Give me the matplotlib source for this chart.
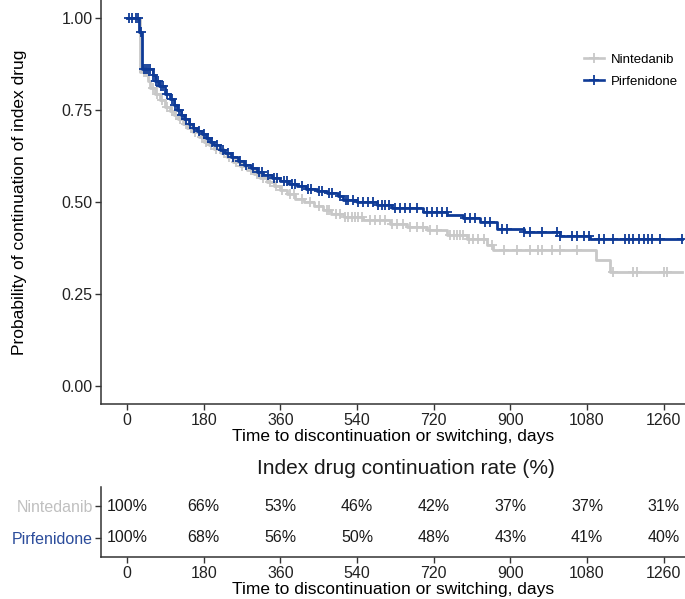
import numpy as np
import matplotlib
matplotlib.use("Agg")
import matplotlib.pyplot as plt
from matplotlib.lines import Line2D

plt.rcParams['font.family'] = ['Liberation Sans', 'DejaVu Sans']

# Kaplan-Meier step points (time in days, survival after the step)
nin_t = [0, 30, 50, 55, 65, 78, 90, 100, 110, 120, 132, 142, 155, 168, 180, 192, 205,
         220, 235, 250, 265, 282, 298, 313, 329, 345, 360, 376, 395, 415, 440, 460, 480,
         510, 555, 618, 658, 705, 752, 799, 846, 860, 1100, 1135, 1304]
nin_s = [1.0, 0.853, 0.83, 0.81, 0.795, 0.777, 0.76, 0.748, 0.738, 0.726, 0.714, 0.703,
         0.69, 0.678, 0.665, 0.655, 0.645, 0.634, 0.622, 0.61, 0.598, 0.587, 0.576, 0.565,
         0.554, 0.543, 0.533, 0.522, 0.508, 0.50, 0.49, 0.478, 0.468, 0.46, 0.451, 0.442,
         0.433, 0.424, 0.41, 0.401, 0.383, 0.37, 0.342, 0.309, 0.309]
nin_cens = [40, 45, 60, 70, 83, 95, 105, 115, 125, 138, 150, 160, 175, 185, 198, 210, 228,
            240, 255, 270, 290, 305, 320, 335, 350, 365, 383, 392, 410, 430, 450, 470, 475,
            490, 500, 512, 520, 528, 536, 543, 551, 571, 583, 594, 606, 622, 634, 649, 665,
            681, 696, 712, 728, 759, 767, 775, 782, 790, 802, 813, 825, 837, 857, 884, 916,
            947, 966, 974, 998, 1017, 1057, 1142, 1189, 1197, 1260, 1268]

pir_t = [0, 28, 35, 60, 65, 75, 90, 100, 110, 118, 126, 135, 145, 155, 165, 175, 185, 195,
         205, 218, 230, 245, 260, 275, 290, 305, 320, 340, 360, 380, 400, 420, 445, 470,
         495, 508, 540, 587, 622, 696, 752, 790, 829, 869, 931, 1017, 1088, 1304]
pir_s = [1.0, 0.962, 0.862, 0.845, 0.83, 0.815, 0.795, 0.78, 0.765, 0.75, 0.737, 0.725,
         0.713, 0.703, 0.695, 0.685, 0.675, 0.665, 0.655, 0.643, 0.633, 0.623, 0.613, 0.602,
         0.592, 0.582, 0.574, 0.566, 0.558, 0.55, 0.543, 0.537, 0.53, 0.524, 0.516, 0.506,
         0.501, 0.492, 0.483, 0.474, 0.465, 0.456, 0.447, 0.427, 0.419, 0.408, 0.399, 0.399]
pir_cens = [5, 12, 20, 25, 33, 40, 45, 50, 55, 62, 68, 72, 80, 85, 95, 105, 112, 122, 130,
            138, 148, 158, 170, 180, 190, 200, 212, 225, 238, 250, 265, 280, 295, 310, 318,
            330, 345, 352, 368, 375, 388, 395, 410, 425, 432, 450, 458, 475, 482, 500, 515,
            520, 531, 543, 555, 566, 578, 590, 598, 606, 614, 630, 641, 653, 665, 681, 704,
            716, 728, 740, 751, 794, 806, 817, 841, 853, 880, 892, 931, 947, 974, 1010, 1017,
            1045, 1057, 1072, 1084, 1107, 1119, 1142, 1170, 1178, 1189, 1201, 1213, 1224,
            1232, 1252, 1304]

# continuation rate table
tab_times = [0, 180, 360, 540, 720, 900, 1080, 1260]
nin_rate = [100, 66, 53, 46, 42, 37, 37, 31]
pir_rate = [100, 68, 56, 50, 48, 43, 41, 40]

gray = '#C8C8C8'
blue = '#0E3A96'
axcol = '#333333'

fig = plt.figure(figsize=(6.85, 5.99), dpi=100)
ax = fig.add_axes([101/685, 1-404.4/599, 1-101/685, 404.4/599])
ax2 = fig.add_axes([101/685, 1-557.2/599, 1-101/685, 70.4/599])

for t, s, c, col in [(nin_t, nin_s, nin_cens, gray), (pir_t, pir_s, pir_cens, blue)]:
    t = np.array(t); s = np.array(s); c = np.array(c)
    ax.step(t, s, where='post', color=col, lw=2.0)
    cy = s[np.searchsorted(t, c, side='right') - 1]
    ax.plot(c, cy, ls='none', marker='+', ms=7, mew=1.3, color=col)

ax.set_xlim(-61, 1310)
ax.set_ylim(-0.05, 1.05)
ax.set_xticks(tab_times)
ax.set_yticks([0, 0.25, 0.5, 0.75, 1.0])
ax.set_yticklabels(['0.00', '0.25', '0.50', '0.75', '1.00'])
ax.set_xlabel('Time to discontinuation or switching, days', fontsize=12.5, labelpad=1)
ax.set_ylabel('Probability of continuation of index drug', fontsize=12.5, labelpad=25)

handles = [Line2D([], [], color=gray, marker='+', lw=1.9, ms=7, mew=1.3),
           Line2D([], [], color=blue, marker='+', lw=1.9, ms=7, mew=1.3)]
ax.legend(handles, ['Nintedanib', 'Pirfenidone'], loc='upper left',
          bbox_to_anchor=(0.807, 0.897), frameon=False, fontsize=9.5,
          handlelength=1.5, handletextpad=0.5, labelspacing=0.75)

# table
for rates, y in [(nin_rate, 2), (pir_rate, 1)]:
    for tt, r in zip(tab_times, rates):
        ax2.text(tt, y, f'{r}%', ha='center', va='center', fontsize=11.5, color='#1a1a1a')
ax2.set_xlim(-61, 1310)
ax2.set_ylim(0.4, 2.6)
ax2.set_xticks(tab_times)
ax2.set_yticks([1, 2])
ax2.set_yticklabels(['Pirfenidone', 'Nintedanib'])
ax2.set_xlabel('Time to discontinuation or switching, days', fontsize=12.5, labelpad=1)
fig.text(406/685, 1-468/599, 'Index drug continuation rate (%)', ha='center', va='center',
         fontsize=15, color='#1a1a1a')

for a in (ax, ax2):
    for sp in ['top', 'right']:
        a.spines[sp].set_visible(False)
    for sp in ['left', 'bottom']:
        a.spines[sp].set_color(axcol)
        a.spines[sp].set_linewidth(1.1)
    a.tick_params(length=4, width=1.0, color=axcol, labelsize=11.5, labelcolor='#222222', pad=2)

ylabs = ax2.get_yticklabels()
ylabs[0].set_color('#2B4C9B')
ylabs[1].set_color('#C0C0C0')

fig.savefig('out.png', dpi=100)
